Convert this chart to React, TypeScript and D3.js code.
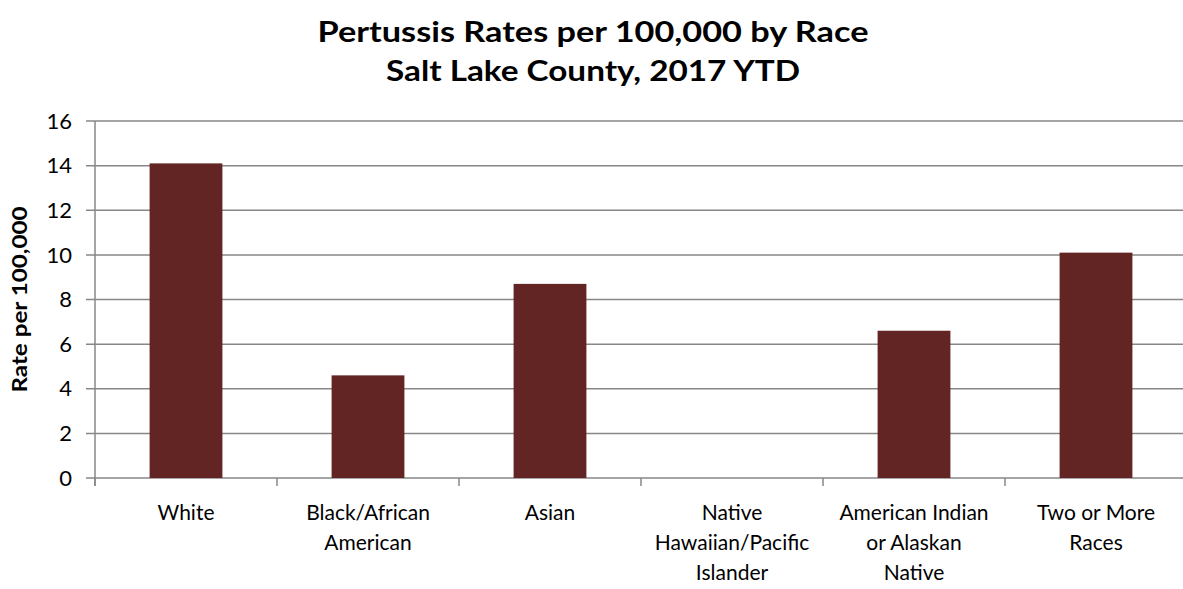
import React from "react";
import * as d3 from "d3";

const categories = [
  ["White"],
  ["Black/African", "American"],
  ["Asian"],
  ["Native", "Hawaiian/Pacific", "Islander"],
  ["American Indian", "or Alaskan", "Native"],
  ["Two or More", "Races"],
];
const rates = [14.1, 4.6, 8.7, 0, 6.6, 10.1];
const yTicks = [0, 2, 4, 6, 8, 10, 12, 14, 16];
const titleLines = ["Pertussis Rates per 100,000 by Race", "Salt Lake County, 2017 YTD"];
const titleWidths = [551, 414];
const yAxisTitle = "Rate per 100,000";

const W = 1183;
const H = 589;
const FONT = "Lato, 'Open Sans', sans-serif";

export default function App() {
  const left = 95;
  const step = 182;
  const top = 121;
  const bottom = 478;

  const x = d3
    .scaleBand<number>()
    .domain(d3.range(categories.length))
    .range([left, left + step * categories.length])
    .paddingInner(0.6)
    .paddingOuter(0.3);
  const y = d3.scaleLinear().domain([0, 16]).range([bottom, top]);

  const gridColor = "#878787";
  const boundaries = d3.range(categories.length + 1).map((i) => left + i * step);

  return (
    <svg
      width={W}
      height={H}
      style={{ position: "absolute", left: 0, top: 0, background: "#fff" }}
    >
      {/* title */}
      {titleLines.map((t, i) => (
        <text
          key={t}
          x={593}
          y={42 + i * 39}
          textAnchor="middle"
          fontFamily={FONT}
          fontWeight="bold"
          fontSize={29}
          textLength={titleWidths[i]}
          lengthAdjust="spacingAndGlyphs"
          fill="#000"
        >
          {t}
        </text>
      ))}

      {/* gridlines */}
      {yTicks.map((t) => (
        <line
          key={t}
          x1={left - 9}
          x2={W}
          y1={y(t)}
          y2={y(t)}
          stroke={gridColor}
          strokeWidth={1.5}
        />
      ))}

      {/* y axis line */}
      <line x1={left} x2={left} y1={top} y2={bottom + 8} stroke={gridColor} strokeWidth={1.5} />

      {/* category ticks */}
      {boundaries.map((b) => (
        <line key={b} x1={b} x2={b} y1={bottom} y2={bottom + 8} stroke={gridColor} strokeWidth={1.5} />
      ))}

      {/* bars */}
      {rates.map((v, i) =>
        v > 0 ? (
          <rect
            key={i}
            x={x(i)}
            y={y(v)}
            width={x.bandwidth()}
            height={y(0) - y(v)}
            fill="#632523"
          />
        ) : null
      )}

      {/* y tick labels */}
      {yTicks.map((t) => (
        <text
          key={t}
          x={72}
          y={y(t)}
          dy="0.35em"
          textAnchor="end"
          fontFamily={FONT}
          fontSize={22}
          fill="#000"
        >
          {t}
        </text>
      ))}

      {/* y axis title */}
      <text
        transform={`translate(27, ${(top + bottom) / 2}) rotate(-90)`}
        textAnchor="middle"
        fontFamily={FONT}
        fontWeight="bold"
        fontSize={20}
        textLength={186}
        lengthAdjust="spacingAndGlyphs"
        fill="#000"
      >
        {yAxisTitle}
      </text>

      {/* category labels */}
      {categories.map((lines, i) => (
        <text
          key={i}
          textAnchor="middle"
          fontFamily={FONT}
          fontSize={21}
          fill="#000"
        >
          {lines.map((l, j) => (
            <tspan key={j} x={(x(i) ?? 0) + x.bandwidth() / 2} y={520 + j * 30}>
              {l}
            </tspan>
          ))}
        </text>
      ))}
    </svg>
  );
}
